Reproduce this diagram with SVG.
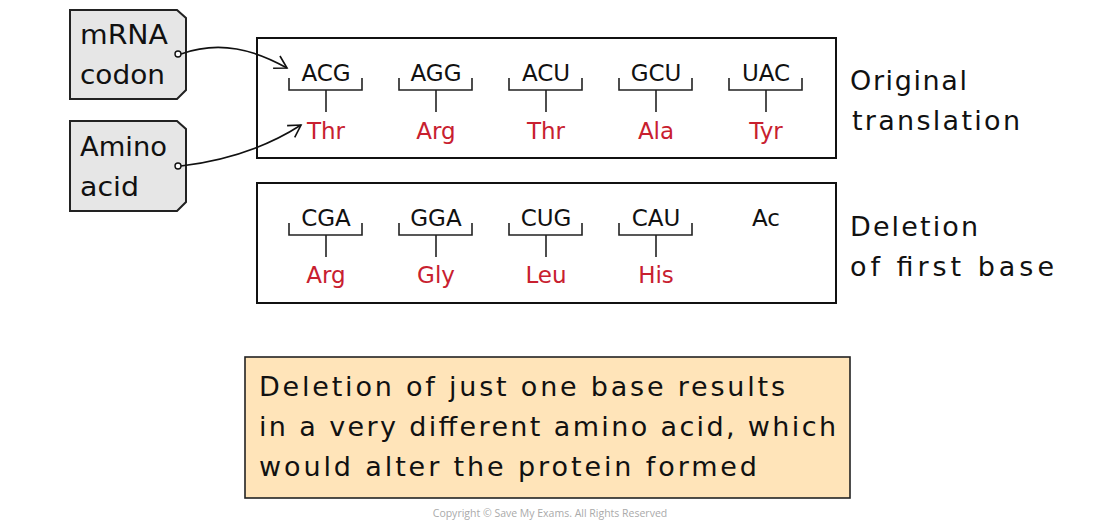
<svg xmlns="http://www.w3.org/2000/svg" width="1100" height="522" viewBox="0 0 1100 522">
<defs>
<style>
.t{font-family:"DejaVu Sans","Liberation Sans",Arial,sans-serif;fill:#111;}
.cod{font-size:23px;text-anchor:middle;}
.aa{font-size:23px;text-anchor:middle;fill:#c8202f;}
.lbl{font-size:27px;}
.box{fill:#fff;stroke:#111;stroke-width:2;}
.tag{fill:#e6e6e6;stroke:#222;stroke-width:2;}
.br{fill:none;stroke:#222;stroke-width:1.6;}
.con{fill:none;stroke:#111;stroke-width:1.6;}
</style>
<marker id="ah" markerWidth="16" markerHeight="16" refX="14" refY="8" orient="auto" markerUnits="userSpaceOnUse">
<path d="M2,1 L14,8 L2,15" fill="none" stroke="#111" stroke-width="1.6"/>
</marker>
</defs>
<rect width="1100" height="522" fill="#fff"/>

<g id="tag-mrna">
<path class="tag" d="M70,10 H177 L186,18 V90 L177,99 H70 Z"/>
<text class="t lbl" x="80" y="44" textLength="88" lengthAdjust="spacingAndGlyphs">mRNA</text>
<text class="t lbl" x="80" y="84" textLength="85" lengthAdjust="spacingAndGlyphs">codon</text>
</g>
<g id="tag-amino">
<path class="tag" d="M70,121 H177 L186,129 V202 L177,211 H70 Z"/>
<text class="t lbl" x="80" y="156" textLength="87" lengthAdjust="spacingAndGlyphs">Amino</text>
<text class="t lbl" x="80" y="196" textLength="59" lengthAdjust="spacingAndGlyphs">acid</text>
</g>

<g id="original">
<rect class="box" x="257" y="38" width="579" height="120"/>
<g class="br">
<path d="M289,78 V90 H362 V78 M326,90 V112"/>
<path d="M399,78 V90 H472 V78 M436,90 V112"/>
<path d="M509,78 V90 H582 V78 M546,90 V112"/>
<path d="M619,78 V90 H692 V78 M656,90 V112"/>
<path d="M729,78 V90 H802 V78 M766,90 V112"/>
</g>
<text class="t cod" x="326" y="81">ACG</text>
<text class="t cod" x="436" y="81">AGG</text>
<text class="t cod" x="546" y="81">ACU</text>
<text class="t cod" x="656" y="81">GCU</text>
<text class="t cod" x="766" y="81">UAC</text>
<text class="t aa" x="326" y="139">Thr</text>
<text class="t aa" x="436" y="139">Arg</text>
<text class="t aa" x="546" y="139">Thr</text>
<text class="t aa" x="656" y="139">Ala</text>
<text class="t aa" x="766" y="139">Tyr</text>
</g>

<g id="deletion">
<rect class="box" x="257" y="183" width="579" height="120"/>
<g class="br">
<path d="M289,223 V235 H362 V223 M326,235 V257"/>
<path d="M399,223 V235 H472 V223 M436,235 V257"/>
<path d="M509,223 V235 H582 V223 M546,235 V257"/>
<path d="M619,223 V235 H692 V223 M656,235 V257"/>
</g>
<text class="t cod" x="326" y="226">CGA</text>
<text class="t cod" x="436" y="226">GGA</text>
<text class="t cod" x="546" y="226">CUG</text>
<text class="t cod" x="656" y="226">CAU</text>
<text class="t cod" x="766" y="226">Ac</text>
<text class="t aa" x="326" y="283">Arg</text>
<text class="t aa" x="436" y="283">Gly</text>
<text class="t aa" x="546" y="283">Leu</text>
<text class="t aa" x="656" y="283">His</text>
</g>

<g id="label-original">
<text class="t lbl" x="850" y="90" textLength="117" lengthAdjust="spacing">Original</text>
<text class="t lbl" x="852" y="130" textLength="168" lengthAdjust="spacing">translation</text>
</g>
<g id="label-deletion">
<text class="t lbl" x="850" y="236" textLength="128" lengthAdjust="spacing">Deletion</text>
<text class="t lbl" x="850" y="276" textLength="204" lengthAdjust="spacing">of first base</text>
</g>

<g id="note">
<rect x="245" y="357" width="605" height="141" fill="#ffe4b9" stroke="#222" stroke-width="1.6"/>
<text class="t lbl" x="259" y="396" textLength="526" lengthAdjust="spacing">Deletion of just one base results</text>
<text class="t lbl" x="259" y="436" textLength="577" lengthAdjust="spacing">in a very different amino acid, which</text>
<text class="t lbl" x="259" y="476" textLength="498" lengthAdjust="spacing">would alter the protein formed</text>
</g>

<g id="connectors">
<circle cx="178" cy="54" r="3" fill="#fff" stroke="#111" stroke-width="1.4"/>
<path class="con" d="M181,54 C220,40 255,50 287,68" marker-end="url(#ah)"/>
<circle cx="178" cy="166" r="3" fill="#fff" stroke="#111" stroke-width="1.4"/>
<path class="con" d="M181,166 C230,160 270,145 301,125" marker-end="url(#ah)"/>
</g>

<text x="550" y="517" font-family="'Open Sans','Liberation Sans',sans-serif" font-size="10.5" fill="#aaa" text-anchor="middle">Copyright © Save My Exams. All Rights Reserved</text>
</svg>
